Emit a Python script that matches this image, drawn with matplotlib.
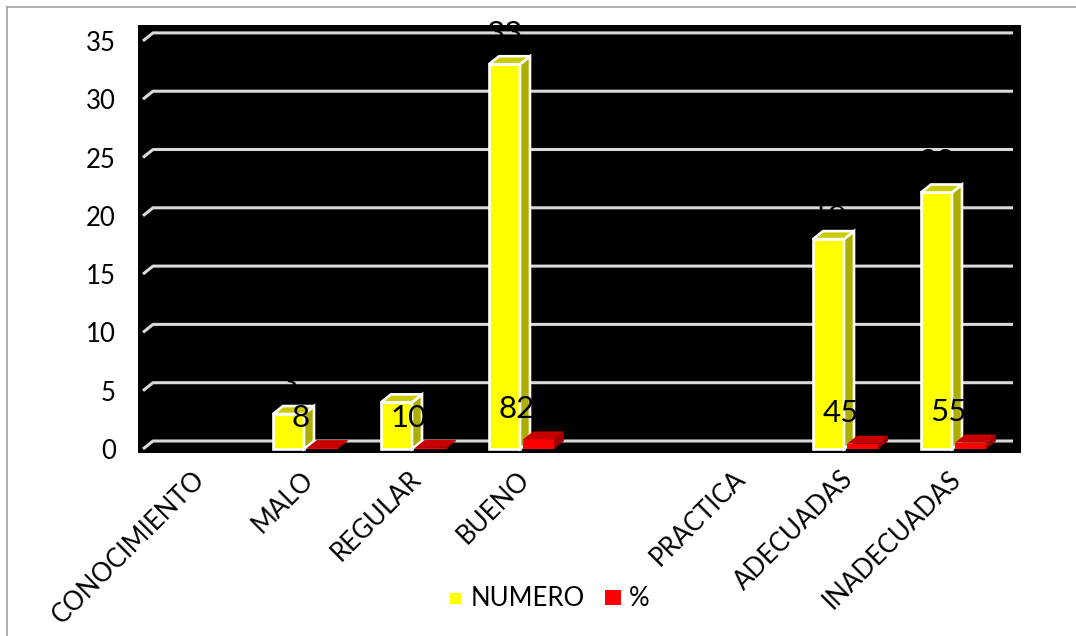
import matplotlib
matplotlib.use("Agg")
import matplotlib.pyplot as plt
from matplotlib.patches import Polygon, Rectangle
from matplotlib.lines import Line2D
import numpy as np

categories = ["CONOCIMIENTO", "MALO", "REGULAR", "BUENO", "", "PRACTICA", "ADECUADAS", "INADECUADAS"]
numero = [np.nan, 3, 4, 33, np.nan, np.nan, 18, 22]
porcentaje = [np.nan, 0.08, 0.10, 0.82, np.nan, np.nan, 0.45, 0.55]
yticks = [0, 5, 10, 15, 20, 25, 30, 35]
series_names = ["NUMERO", "%"]

plt.rcParams['font.family'] = ['Lato', 'DejaVu Sans']

W, H = 1076, 636
fig = plt.figure(figsize=(W / 100, H / 100), dpi=100)

# axes area (black plot region) in pixels
L, R, T, B = 138, 1021, 25, 453
ax = fig.add_axes([L / W, 1 - B / H, (R - L) / W, (B - T) / H])
ax.set_facecolor("black")

# data <-> pixel mapping
px_per_cat = 108.0
x0px = 197.0
y0px = 449.0
px_per_unit = 11.66
ax.set_xlim((L - x0px) / px_per_cat, (R - x0px) / px_per_cat)
ax.set_ylim((y0px - B) / px_per_unit, (y0px - T) / px_per_unit)

dx = 10 / px_per_cat
dy = 8 / px_per_unit

for s in ax.spines.values():
    s.set_visible(False)

# gridlines with 3D wall corner
xl = -0.5
xr = (1013 - x0px) / px_per_cat
for v in yticks:
    ax.plot([xl, xl + dx, xr], [v, v + dy, v + dy], color="#D9D9D9", lw=2.2,
            solid_capstyle="butt", zorder=1)

ax.set_yticks(yticks)
ax.set_yticklabels([str(v) for v in yticks], fontsize=18.5)
ax.tick_params(axis="y", length=0, pad=16)
ax.set_xticks([])


def bar3d(x, w, h, front, side, top, edge, lw, z):
    ax.add_patch(Rectangle((x, 0), w, h, facecolor=front, edgecolor=edge, lw=lw, zorder=z))
    ax.add_patch(Polygon([(x + w, 0), (x + w + dx, dy), (x + w + dx, h + dy), (x + w, h)],
                         closed=True, facecolor=side, edgecolor=edge, lw=lw, zorder=z))
    ax.add_patch(Polygon([(x, h), (x + dx, h + dy), (x + w + dx, h + dy), (x + w, h)],
                         closed=True, facecolor=top, edgecolor=edge, lw=lw, zorder=z))


bw = 31 / px_per_cat
for i, (n, p) in enumerate(zip(numero, porcentaje)):
    if not np.isnan(n):
        xb = i - 32 / px_per_cat
        bar3d(xb, bw, n, "#FFFF00", "#AEAE00", "#CACA00", "white", 1.9, 3)
        ax.text(xb + bw / 2, n + 2.6, f"{n:g}", ha="center", va="center",
                fontsize=22.5, color="black", zorder=6, clip_on=False)
    if not np.isnan(p):
        xr_ = i + 2 / px_per_cat
        bar3d(xr_, bw, p, "#FF0000", "#A00000", "#C80000", "none", 0, 4)
        ax.text(i - 0.04, p + 2.6, f"{p * 100:g}", ha="center", va="center",
                fontsize=22.5, color="black", zorder=7)

# category labels
for i, c in enumerate(categories):
    if c:
        ax.text(i + 0.04, (y0px - 475) / px_per_unit, c, rotation=45, rotation_mode="anchor",
                ha="right", va="center", fontsize=18.5, color="black", clip_on=False)

# legend (manual)
def fx(px):
    return px / W


def fy(py):
    return 1 - py / H


fig.add_artist(Rectangle((fx(449), fy(605)), 13 / W, 13 / H, transform=fig.transFigure,
                         facecolor="#FFFF00", edgecolor="white", lw=1.2))
fig.text(fx(471), fy(599), series_names[0], fontsize=18.5, va="center", ha="left")
fig.add_artist(Rectangle((fx(605), fy(605)), 16 / W, 15 / H, transform=fig.transFigure,
                         facecolor="#FF0000", edgecolor="none"))
fig.text(fx(629), fy(599), series_names[1], fontsize=18.5, va="center", ha="left")

# outer chart border (top and left visible)
fig.add_artist(Line2D([fx(7), fx(7)], [fy(7), fy(640)], transform=fig.transFigure, color="#A0A0A0", lw=1.2))
fig.add_artist(Line2D([fx(7), fx(1080)], [fy(7), fy(7)], transform=fig.transFigure, color="#A0A0A0", lw=1.2))

fig.savefig("out.png", dpi=100, facecolor="white")
